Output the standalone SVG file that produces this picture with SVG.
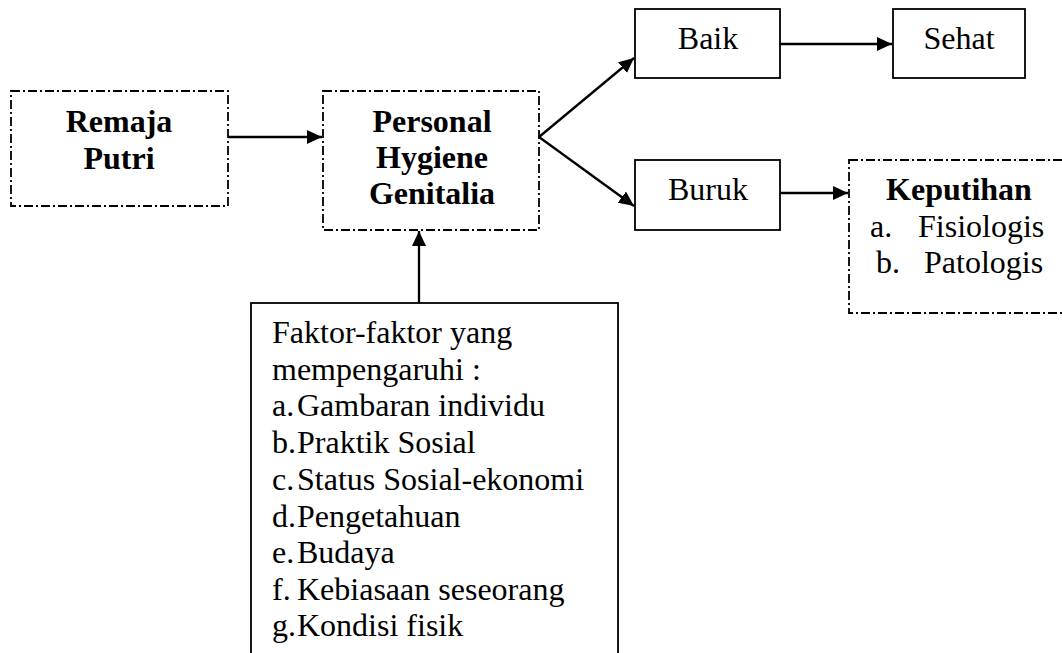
<svg xmlns="http://www.w3.org/2000/svg" width="1062" height="653" viewBox="0 0 1062 653">
<style>
.t{font-family:"Liberation Serif","Times New Roman",serif;font-size:32px;fill:#000}
.b{font-weight:bold}
.m{text-anchor:middle}
.dd{fill:none;stroke:#000;stroke-width:1.8;stroke-dasharray:9 3 2 3}
.sb{fill:#fff;stroke:#000;stroke-width:1.8}
.ln{fill:none;stroke:#000;stroke-width:2.3}
</style>
<defs>
<marker id="ah" markerUnits="userSpaceOnUse" markerWidth="17" markerHeight="15" refX="15" refY="7" orient="auto">
<path d="M0,0 L15,7 L0,14 z" fill="#000"/>
</marker>
</defs>
<rect width="1062" height="653" fill="#fff"/>
<g id="connectors">
<line class="ln" x1="228" y1="137" x2="322" y2="137" marker-end="url(#ah)"/>
<line class="ln" x1="539" y1="137" x2="634" y2="58" marker-end="url(#ah)"/>
<line class="ln" x1="539" y1="137" x2="634" y2="206" marker-end="url(#ah)"/>
<line class="ln" x1="780" y1="44" x2="892" y2="44" marker-end="url(#ah)"/>
<line class="ln" x1="780" y1="193" x2="848" y2="193" marker-end="url(#ah)"/>
<line class="ln" x1="419" y1="303" x2="419" y2="231" marker-end="url(#ah)"/>
</g>
<g id="remaja">
<rect class="dd" x="11" y="91" width="217" height="115"/>
<text class="t b m" x="119" y="132">Remaja</text>
<text class="t b m" x="119" y="169">Putri</text>
</g>
<g id="personal">
<rect class="dd" x="323" y="91" width="216" height="139"/>
<text class="t b m" x="432" y="132">Personal</text>
<text class="t b m" x="432" y="168">Hygiene</text>
<text class="t b m" x="432" y="204">Genitalia</text>
</g>
<g id="baik">
<rect class="sb" x="635" y="9" width="145" height="69"/>
<text class="t m" x="708" y="49">Baik</text>
</g>
<g id="sehat">
<rect class="sb" x="893" y="9" width="132" height="69"/>
<text class="t m" x="959" y="49">Sehat</text>
</g>
<g id="buruk">
<rect class="sb" x="635" y="160" width="145" height="70"/>
<text class="t m" x="708" y="200">Buruk</text>
</g>
<g id="keputihan">
<rect class="dd" x="849" y="160" width="240" height="153"/>
<text class="t b m" x="959" y="200">Keputihan</text>
<text class="t" x="870" y="237">a.</text>
<text class="t" x="918" y="237">Fisiologis</text>
<text class="t" x="876" y="273">b.</text>
<text class="t" x="924" y="273">Patologis</text>
</g>
<g id="faktor">
<rect class="sb" x="251" y="303" width="367" height="360"/>
<text class="t" x="272" y="343">Faktor-faktor yang</text>
<text class="t" x="272" y="380">mempengaruhi :</text>
<text class="t" x="272" y="416">a.</text><text class="t" x="297" y="416">Gambaran individu</text>
<text class="t" x="272" y="453">b.</text><text class="t" x="297" y="453">Praktik Sosial</text>
<text class="t" x="272" y="490">c.</text><text class="t" x="297" y="490">Status Sosial-ekonomi</text>
<text class="t" x="272" y="527">d.</text><text class="t" x="297" y="527">Pengetahuan</text>
<text class="t" x="272" y="563">e.</text><text class="t" x="297" y="563">Budaya</text>
<text class="t" x="272" y="600">f.</text><text class="t" x="297" y="600">Kebiasaan seseorang</text>
<text class="t" x="272" y="636">g.</text><text class="t" x="297" y="636">Kondisi fisik</text>
</g>
</svg>
